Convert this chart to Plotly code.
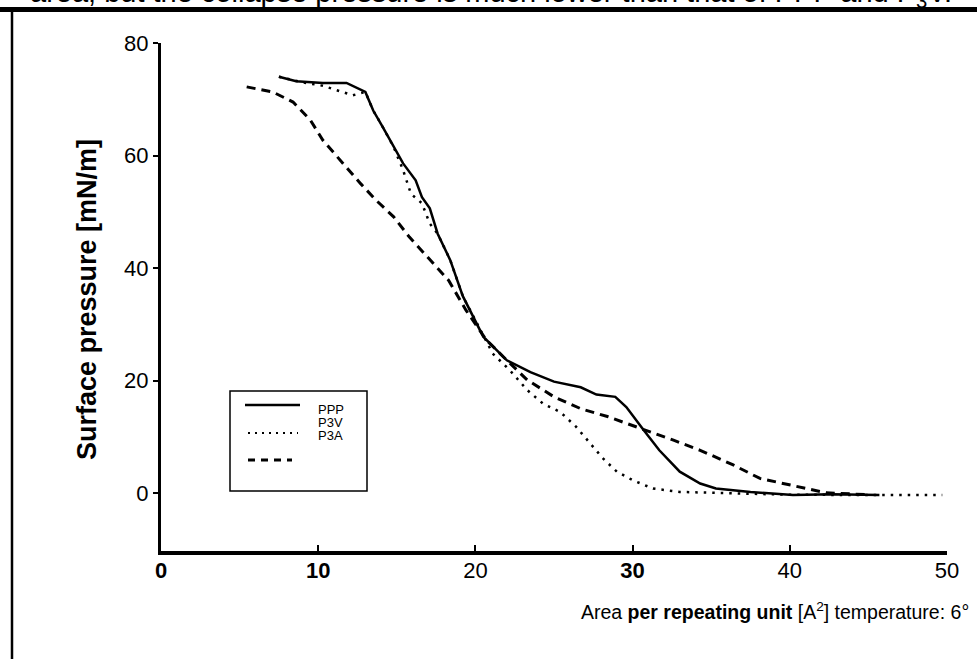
import plotly.graph_objects as go

# ---- data ----
ppp_x = [7.5, 8.6, 10.3, 11.8, 13.0, 13.5, 14.1, 14.8, 15.4, 16.2, 16.6, 17.1, 17.6, 18.4, 19.2, 20.5,
         22.0, 23.5, 25.0, 26.7, 27.7, 28.9, 29.6, 30.7, 31.7, 33.0, 34.3, 35.3, 37.5, 40.2, 42.7, 45.7]
ppp_y = [74.0, 73.2, 72.9, 72.9, 71.3, 68.0, 65.1, 61.5, 58.6, 55.6, 52.6, 50.6, 46.1, 41.4, 35.0, 27.8,
         23.6, 21.5, 19.8, 18.8, 17.5, 17.1, 15.3, 11.2, 7.6, 3.8, 1.7, 0.8, 0.2, -0.35, -0.2, -0.35]

p3v_x = [7.5, 9.0, 10.3, 12.2, 13.0, 13.5, 14.1, 14.8, 15.4, 15.9, 16.6, 17.1, 17.6, 18.4, 19.2, 20.5,
         21.1, 22.2, 23.3, 24.3, 25.4, 26.4, 27.3, 28.1, 29.0, 30.0, 31.3, 33.0, 35.8, 40.0, 45.0, 49.7]
p3v_y = [74.0, 73.0, 72.4, 70.7, 71.3, 68.0, 65.1, 61.5, 57.4, 53.2, 51.5, 47.9, 46.1, 41.4, 35.0, 28.0,
         24.8, 21.8, 18.3, 15.9, 14.4, 11.8, 8.8, 6.2, 3.8, 2.3, 0.8, 0.2, 0.0, -0.3, -0.35, -0.35]

p3a_x = [5.45, 7.1, 8.4, 9.5, 10.3, 11.4, 12.7, 13.7, 14.8, 15.8, 17.1, 18.3, 19.4, 20.7, 22.0, 23.3,
         25.0, 26.7, 28.4, 29.6, 30.9, 32.6, 34.3, 36.4, 38.1, 39.8, 41.5, 42.3, 45.0]
p3a_y = [72.2, 71.3, 69.5, 66.3, 62.7, 59.1, 55.0, 52.0, 49.1, 45.5, 41.4, 37.8, 32.5, 27.2, 23.6, 20.1,
         17.1, 15.0, 13.6, 12.4, 11.2, 9.4, 7.6, 5.0, 2.6, 1.6, 0.5, 0.05, -0.3]

series_names = ["PPP", "P3V", "P3A"]
x_tickvals = [0, 10, 20, 30, 40, 50]
x_ticktext = ["<b>0</b>", "<b>10</b>", "20", "<b>30</b>", "40", "50"]
y_tickvals = [0, 20, 40, 60, 80]

SANS = "Liberation Sans, Arial, sans-serif"

fig = go.Figure()
fig.add_trace(go.Scatter(x=ppp_x, y=ppp_y, mode="lines", name=series_names[0],
                         line=dict(color="black", width=2.5), showlegend=False))
fig.add_trace(go.Scatter(x=p3v_x, y=p3v_y, mode="lines", name=series_names[1],
                         line=dict(color="black", width=2.5, dash="2.5px,6px"), showlegend=False))
fig.add_trace(go.Scatter(x=p3a_x, y=p3a_y, mode="lines", name=series_names[2],
                         line=dict(color="black", width=3, dash="9px,6px"), showlegend=False))

W, H = 977, 659
L, R, T, B = 161, 30, 43, 108
pw, ph = W - L - R, H - T - B


def px(x):
    return (x - L) / pw


def py(y):
    return (H - B - y) / ph


shapes = []
# page frame (top thick rule and left rule)
shapes.append(dict(type="line", xref="paper", yref="paper", x0=px(0), x1=px(W), y0=py(9.5), y1=py(9.5),
                   line=dict(color="black", width=5)))
shapes.append(dict(type="line", xref="paper", yref="paper", x0=px(12), x1=px(12), y0=py(9), y1=py(H + 5),
                   line=dict(color="black", width=2.5)))
# legend box
shapes.append(dict(type="rect", xref="paper", yref="paper", x0=px(230), x1=px(367), y0=py(491), y1=py(391),
                   line=dict(color="black", width=1.5)))
# legend samples
shapes.append(dict(type="line", xref="paper", yref="paper", x0=px(245), x1=px(300), y0=py(405), y1=py(405),
                   line=dict(color="black", width=2.5)))
shapes.append(dict(type="line", xref="paper", yref="paper", x0=px(248), x1=px(298), y0=py(433), y1=py(433),
                   line=dict(color="black", width=2, dash="2px,5px")))
shapes.append(dict(type="line", xref="paper", yref="paper", x0=px(248), x1=px(292), y0=py(460), y1=py(460),
                   line=dict(color="black", width=3, dash="7px,6px")))

annotations = []
annotations.append(dict(xref="paper", yref="paper", x=px(28), y=py(-5.5), xanchor="left", yanchor="middle",
                        text="area, but the collapse pressure is much lower than that of PPP and P<sub>3</sub>V.",
                        showarrow=False, font=dict(family=SANS, size=29, color="black")))
for i, (name, yy) in enumerate(zip(series_names, [409, 422, 435])):
    annotations.append(dict(xref="paper", yref="paper", x=px(316), y=py(yy), xanchor="left", yanchor="middle",
                            text=name, showarrow=False, font=dict(family=SANS, size=13, color="black")))
annotations.append(dict(xref="paper", yref="paper", x=px(87), y=py(300), xanchor="center", yanchor="middle",
                        textangle=-90, text="<b>Surface pressure [mN/m]</b>", showarrow=False,
                        font=dict(family=SANS, size=27, color="black")))
annotations.append(dict(xref="paper", yref="paper", x=px(971), y=py(611), xanchor="right", yanchor="middle",
                        text="Area <b>per repeating unit</b> [A<sup>2</sup>] temperature: 6°", showarrow=False,
                        font=dict(family=SANS, size=19.5, color="black")))

fig.update_layout(
    width=W, height=H,
    margin=dict(l=L, r=R, t=T, b=B, pad=0),
    paper_bgcolor="white", plot_bgcolor="white",
    showlegend=False,
    shapes=shapes, annotations=annotations,
    xaxis=dict(range=[0, 50], tickvals=x_tickvals, ticktext=x_ticktext,
               showgrid=False, zeroline=False, showline=True, linecolor="black", linewidth=4,
               ticks="inside", ticklen=6, tickwidth=2, tickcolor="black", ticklabelstandoff=-3,
               tickfont=dict(family=SANS, size=22, color="black")),
    yaxis=dict(range=[-10.3, 80], tickvals=y_tickvals,
               showgrid=False, zeroline=False, showline=True, linecolor="black", linewidth=3,
               ticks="outside", ticklen=5, tickwidth=2, tickcolor="black",
               tickfont=dict(family=SANS, size=22, color="black")),
)

fig.write_html("out.html")
